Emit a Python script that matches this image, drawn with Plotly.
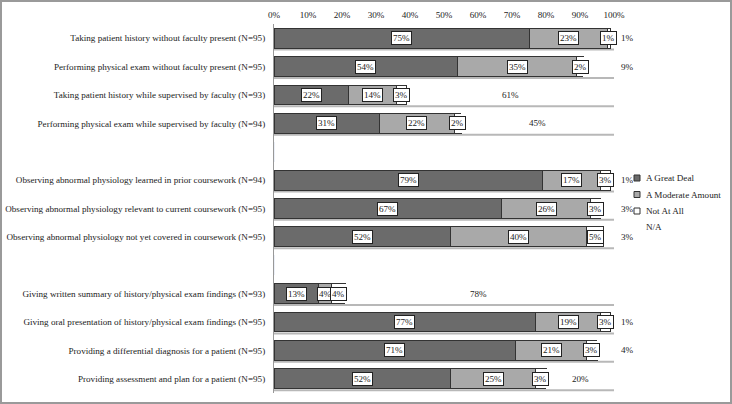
import plotly.graph_objects as go

group1 = [
    "Taking patient history without faculty present (N=95)",
    "Performing physical exam without faculty present (N=95)",
    "Taking patient history while supervised by faculty (N=93)",
    "Performing physical exam while supervised by faculty (N=94)",
]
group2 = [
    "Observing abnormal physiology learned in prior coursework (N=94)",
    "Observing abnormal physiology relevant to current coursework (N=95)",
    "Observing abnormal physiology not yet covered in coursework (N=95)",
]
group3 = [
    "Giving written summary of history/physical exam findings (N=93)",
    "Giving oral presentation of history/physical exam findings (N=95)",
    "Providing a differential diagnosis for a patient (N=95)",
    "Providing assessment and plan for a patient (N=95)",
]
categories = group1 + group2 + group3

great_deal = [75, 54, 22, 31, 79, 67, 52, 13, 77, 71, 52]
moderate = [23, 35, 14, 22, 17, 26, 40, 4, 19, 21, 25]
not_at_all = [1, 2, 3, 2, 3, 3, 5, 4, 3, 3, 3]
na = [1, 9, 61, 45, 1, 3, 3, 78, 1, 4, 20]

series_names = ["A Great Deal", "A Moderate Amount", "Not At All", "N/A"]
x_ticks = list(range(0, 101, 10))

FONT = "Liberation Serif, Times New Roman, serif"
FS = 9.1
colors = ["#6b6b6b", "#a9a9a9", "#ffffff", "#ffffff"]
lines = ["#333333", "#333333", "#333333", "rgba(0,0,0,0)"]

category_order = group1 + [" "] + group2 + ["  "] + group3

L, R, T, B = 274, 118, 24, 11
W, H = 732, 404
pw, ph = W - L - R, H - T - B


def px_x(p):  # pixel -> paper x
    return (p - L) / pw


def px_y(p):  # pixel -> paper y
    return (H - B - p) / ph


fig = go.Figure()
# spacer categories (blank rows between groups)
fig.add_trace(go.Bar(y=category_order, x=[0] * len(category_order), orientation="h",
                     showlegend=False, hoverinfo="skip", marker=dict(color="rgba(0,0,0,0)")))
for name, vals, c, lc in zip(series_names, [great_deal, moderate, not_at_all, na], colors, lines):
    fig.add_trace(go.Bar(
        y=categories, x=vals, name=name, orientation="h", showlegend=False,
        marker=dict(color=c, line=dict(color=lc, width=1)),
        hoverinfo="x+y",
    ))

# shelf baselines under each row (0..100)
for cat in categories:
    idx = category_order.index(cat)
    fig.add_shape(type="line", xref="x", yref="y", x0=0, x1=100, y0=idx + 0.4, y1=idx + 0.4,
                  line=dict(color="#b8b8b8", width=2), layer="below")

annotations = []
for i, cat in enumerate(categories):
    cum = 0
    for vals in [great_deal, moderate, not_at_all]:
        v = vals[i]
        annotations.append(dict(
            x=cum + v / 2, y=cat, xref="x", yref="y", text=f"{v}%", showarrow=False,
            bgcolor="white", bordercolor="#222222", borderwidth=1, borderpad=1,
            font=dict(family=FONT, size=FS, color="#222")))
        cum += v
    v = na[i]
    if v >= 15:
        annotations.append(dict(x=cum + v / 2, y=cat, xref="x", yref="y", text=f"{v}%",
                                showarrow=False, font=dict(family=FONT, size=FS, color="#222")))
    else:
        annotations.append(dict(x=100, y=cat, xref="x", yref="y", text=f"{v}%", xanchor="left",
                                xshift=5, showarrow=False,
                                font=dict(family=FONT, size=FS, color="#222")))

# compact legend (marker squares + labels)
leg_x, leg_y0, leg_dy = 637, 178, 16.5
for k, (name, c, lc) in enumerate(zip(series_names, colors, lines)):
    yc = leg_y0 + k * leg_dy
    if lc != "rgba(0,0,0,0)":
        fig.add_shape(type="rect", xref="paper", yref="paper",
                      x0=px_x(leg_x - 3), x1=px_x(leg_x + 3), y0=px_y(yc + 3), y1=px_y(yc - 3),
                      fillcolor=c, line=dict(color=lc, width=1))
    annotations.append(dict(x=px_x(leg_x + 7), y=px_y(yc), xref="paper", yref="paper",
                            text=name, xanchor="left", yanchor="middle", showarrow=False,
                            font=dict(family=FONT, size=FS, color="#222")))

fig.add_shape(type="rect", xref="paper", yref="paper",
              x0=-(L - 1) / pw, x1=1 + (R - 1) / pw, y0=-(B - 1) / ph, y1=1 + (T - 1) / ph,
              line=dict(color="#9a9a9a", width=2))

fig.update_layout(
    width=W, height=H,
    margin=dict(l=L, r=R, t=T, b=B, autoexpand=False),
    barmode="stack", bargap=0.3,
    paper_bgcolor="white", plot_bgcolor="white",
    font=dict(family=FONT, size=FS, color="#222"),
    showlegend=False,
    annotations=annotations,
    xaxis=dict(side="top", range=[0, 100], tickvals=x_ticks,
               ticktext=[f"{t}%" for t in x_ticks], showgrid=False, zeroline=False,
               showline=False, ticks="", automargin=False, ticklabelstandoff=3,
               tickfont=dict(family=FONT, size=FS)),
    yaxis=dict(categoryorder="array", categoryarray=category_order,
               autorange="reversed", showgrid=False, zeroline=False, automargin=False,
               showline=True, linecolor="#999999", linewidth=1, ticks="",
               ticklabelstandoff=6, tickfont=dict(family=FONT, size=FS)),
)

fig.write_html("out.html", config={"displayModeBar": False},
               post_script="document.body.style.margin='0';")
